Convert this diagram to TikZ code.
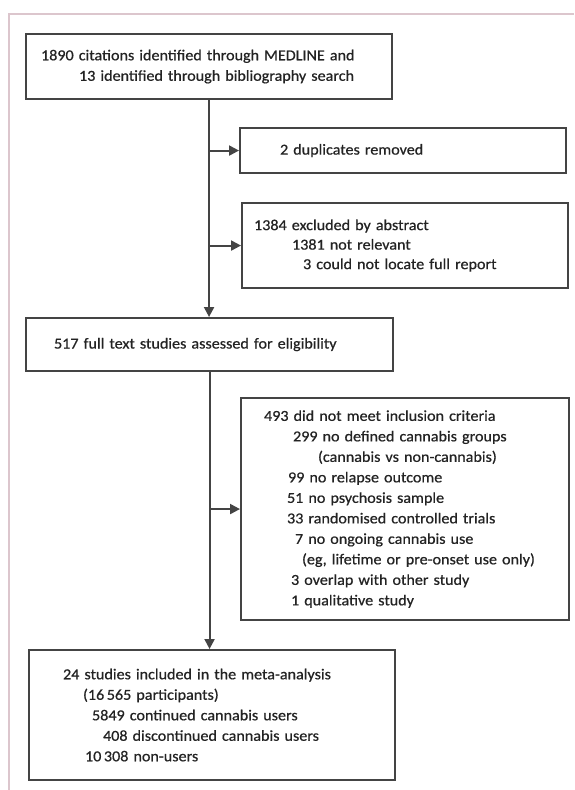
\documentclass[tikz,border=0pt]{standalone}
\usepackage{fontspec}
\setmainfont{Carlito}[FakeStretch=1.06,FakeBold=0.6]
\usetikzlibrary{arrows.meta}
\definecolor{linec}{RGB}{68,68,68}
\definecolor{textc}{RGB}{35,35,35}
\definecolor{framec}{RGB}{220,198,205}
\newcommand{\boxline}[2]{\hspace*{#1pt}\mbox{#2}}
\begin{document}
\begin{tikzpicture}[x=1pt,y=-1pt,
  flowbox/.style={draw=linec, line width=2.1pt, anchor=north west, inner xsep=4pt, inner ysep=0pt,
    align=left, font=\fontsize{15.2}{20.5}\selectfont, text=textc},
  conn/.style={draw=linec, line width=2.1pt, -{Triangle[length=10pt,width=10pt]}}]
\useasboundingbox (0,0) rectangle (574,790);
\fill[white] (0,0) rectangle (574,790);
\draw[framec, line width=1.3pt] (9,790) -- (9,14) -- (574,14);

\node[flowbox, text width=358pt, minimum height=65pt] (b1) at (25,33)
  {\boxline{11}{1890 citations identified through MEDLINE and}\\
   \boxline{49}{13 identified through bibliography search}};
\node[flowbox, text width=318pt, minimum height=45pt] (b2) at (239,127)
  {\boxline{36}{2 duplicates removed}};
\node[flowbox, text width=318pt, minimum height=85pt, font=\fontsize{15.2}{19.5}\selectfont] (b3) at (241,202)
  {\boxline{8}{1384 excluded by abstract}\\
   \boxline{46}{1381 not relevant}\\
   \boxline{57}{3 could not locate full report}};
\node[flowbox, text width=359pt, minimum height=53pt] (b4) at (25,317)
  {\boxline{24}{517 full text studies assessed for eligibility}};
\node[flowbox, text width=320pt, minimum height=222pt] (b5) at (240,397)
  {\boxline{19}{493 did not meet inclusion criteria}\\
   \boxline{48}{299 no defined cannabis groups}\\
   \boxline{73}{(cannabis vs non-cannabis)}\\
   \boxline{43}{99 no relapse outcome}\\
   \boxline{42}{51 no psychosis sample}\\
   \boxline{42}{33 randomised controlled trials}\\
   \boxline{50}{7 no ongoing cannabis use}\\
   \boxline{57}{(eg, lifetime or pre-onset use only)}\\
   \boxline{46}{3 overlap with other study}\\
   \boxline{46}{1 qualitative study}};
\node[flowbox, text width=358pt, minimum height=130pt] (b6) at (28,649)
  {\boxline{30}{24 studies included in the meta-analysis}\\
   \boxline{50}{(16\,565 participants)}\\
   \boxline{59}{5849 continued cannabis users}\\
   \boxline{70}{408 discontinued cannabis users}\\
   \boxline{52}{10\,308 non-users}};

\draw[conn] (b1.south) -- (b1.south |- b4.north);
\draw[conn] (b1.south |- b2.west) -- (b2.west);
\draw[conn] (b1.south |- b3.west) -- (b3.west);
\draw[conn] (b4.south) -- (b4.south |- b6.north);
\draw[conn] (b4.south |- b5.west) -- (b5.west);
\end{tikzpicture}
\end{document}
